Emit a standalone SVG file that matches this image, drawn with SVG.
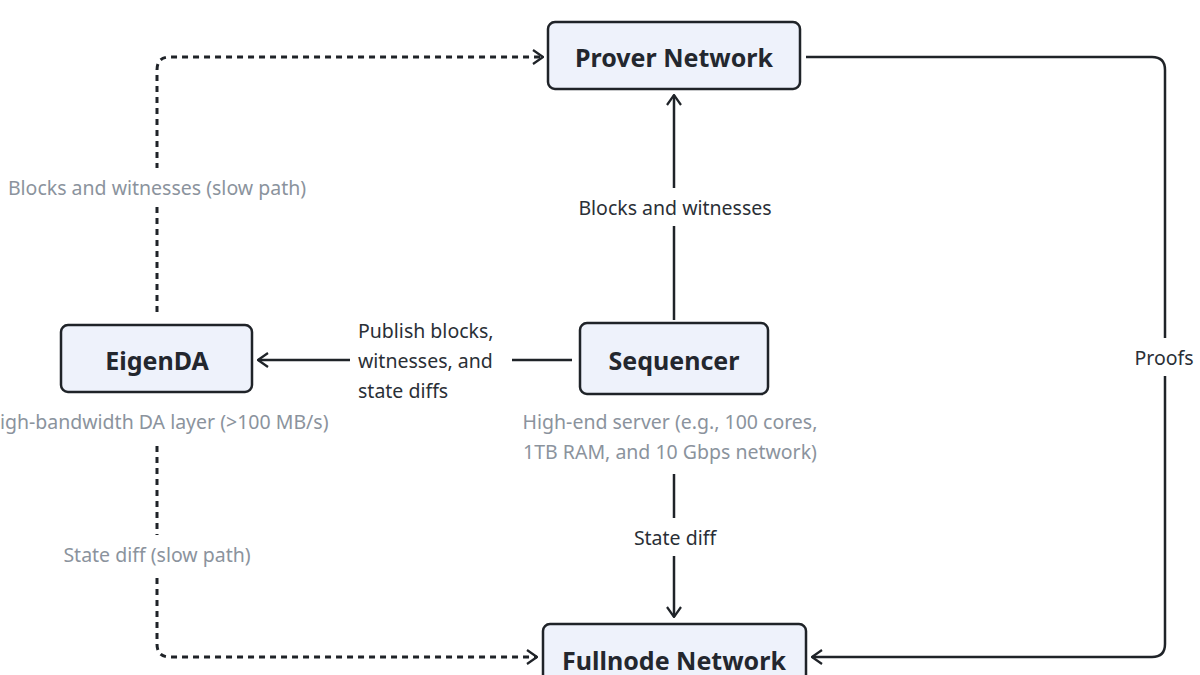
<svg xmlns="http://www.w3.org/2000/svg" width="1200" height="675" viewBox="0 0 1200 675">
<defs>
<style>
.box{fill:#eef2fb;stroke:#1f2328;stroke-width:2.5}
.title{font-family:"Noto Sans","Open Sans",sans-serif;font-weight:700;font-size:25px;fill:#23272e;text-anchor:middle;dominant-baseline:central}
.edge{fill:none;stroke:#1f2328;stroke-width:2.5}
.dash{stroke-dasharray:6 5;stroke-width:3}
.lbl{font-family:"Noto Sans","Open Sans",sans-serif;font-size:19.5px;fill:#2a2f36;text-anchor:middle;dominant-baseline:central}
.note{font-family:"Noto Sans","Open Sans",sans-serif;font-size:19.5px;fill:#8b939d;text-anchor:middle;dominant-baseline:central}
.bg{fill:#ffffff}
</style>
<marker id="arr" viewBox="0 0 12 16" refX="11" refY="8" markerWidth="12" markerHeight="16" markerUnits="userSpaceOnUse" orient="auto">
<path d="M1,1 L11,8 L1,15" fill="none" stroke="#1f2328" stroke-width="2.2"/>
</marker>
</defs>
<rect width="1200" height="675" fill="#ffffff"/>
<g id="connectors">
<path class="edge dash" d="M157,312 L157,70 Q157,57 170,57 L543,57" marker-end="url(#arr)"/>
<path class="edge dash" d="M157,446 L157,644 Q157,657 170,657 L537,657" marker-end="url(#arr)"/>
<path class="edge" d="M806,57 L1152,57 Q1165,57 1165,70 L1165,644 Q1165,657 1152,657 L812,657" marker-end="url(#arr)"/>
<path class="edge" d="M674,320 L674,95" marker-end="url(#arr)"/>
<path class="edge" d="M572,360 L258,360" marker-end="url(#arr)"/>
<path class="edge" d="M674,474 L674,617" marker-end="url(#arr)"/>
<rect class="bg" x="0" y="168" width="320" height="38"/>
<text class="note" x="157" y="187">Blocks and witnesses (slow path)</text>
<rect class="bg" x="40" y="535" width="230" height="38"/>
<text class="note" x="157" y="554">State diff (slow path)</text>
<rect class="bg" x="565" y="188" width="220" height="38"/>
<text class="lbl" x="675" y="207">Blocks and witnesses</text>
<rect class="bg" x="350" y="312" width="162" height="96"/>
<text class="lbl" x="358" y="330" style="text-anchor:start">Publish blocks,</text>
<text class="lbl" x="358" y="360" style="text-anchor:start">witnesses, and</text>
<text class="lbl" x="358" y="390" style="text-anchor:start">state diffs</text>
<rect class="bg" x="625" y="518" width="100" height="38"/>
<text class="lbl" x="675" y="537">State diff</text>
<rect class="bg" x="1128" y="338" width="72" height="38"/>
<text class="lbl" x="1164" y="357">Proofs</text>
</g>
<g id="prover">
<rect class="box" x="548" y="22" width="252" height="67" rx="7"/>
<text class="title" x="674" y="57">Prover Network</text>
</g>
<g id="sequencer">
<rect class="box" x="580" y="323" width="188" height="71" rx="7"/>
<text class="title" x="674" y="360">Sequencer</text>
<text class="note" x="670" y="421">High-end server (e.g., 100 cores,</text>
<text class="note" x="670" y="451">1TB RAM, and 10 Gbps network)</text>
</g>
<g id="eigenda">
<rect class="box" x="61" y="325" width="191" height="67" rx="7"/>
<text class="title" x="157" y="360">EigenDA</text>
<text class="note" x="157" y="421">High-bandwidth DA layer (&gt;100 MB/s)</text>
</g>
<g id="fullnode">
<rect class="box" x="543" y="624" width="263" height="72" rx="7"/>
<text class="title" x="674" y="660">Fullnode Network</text>
</g>
</svg>
